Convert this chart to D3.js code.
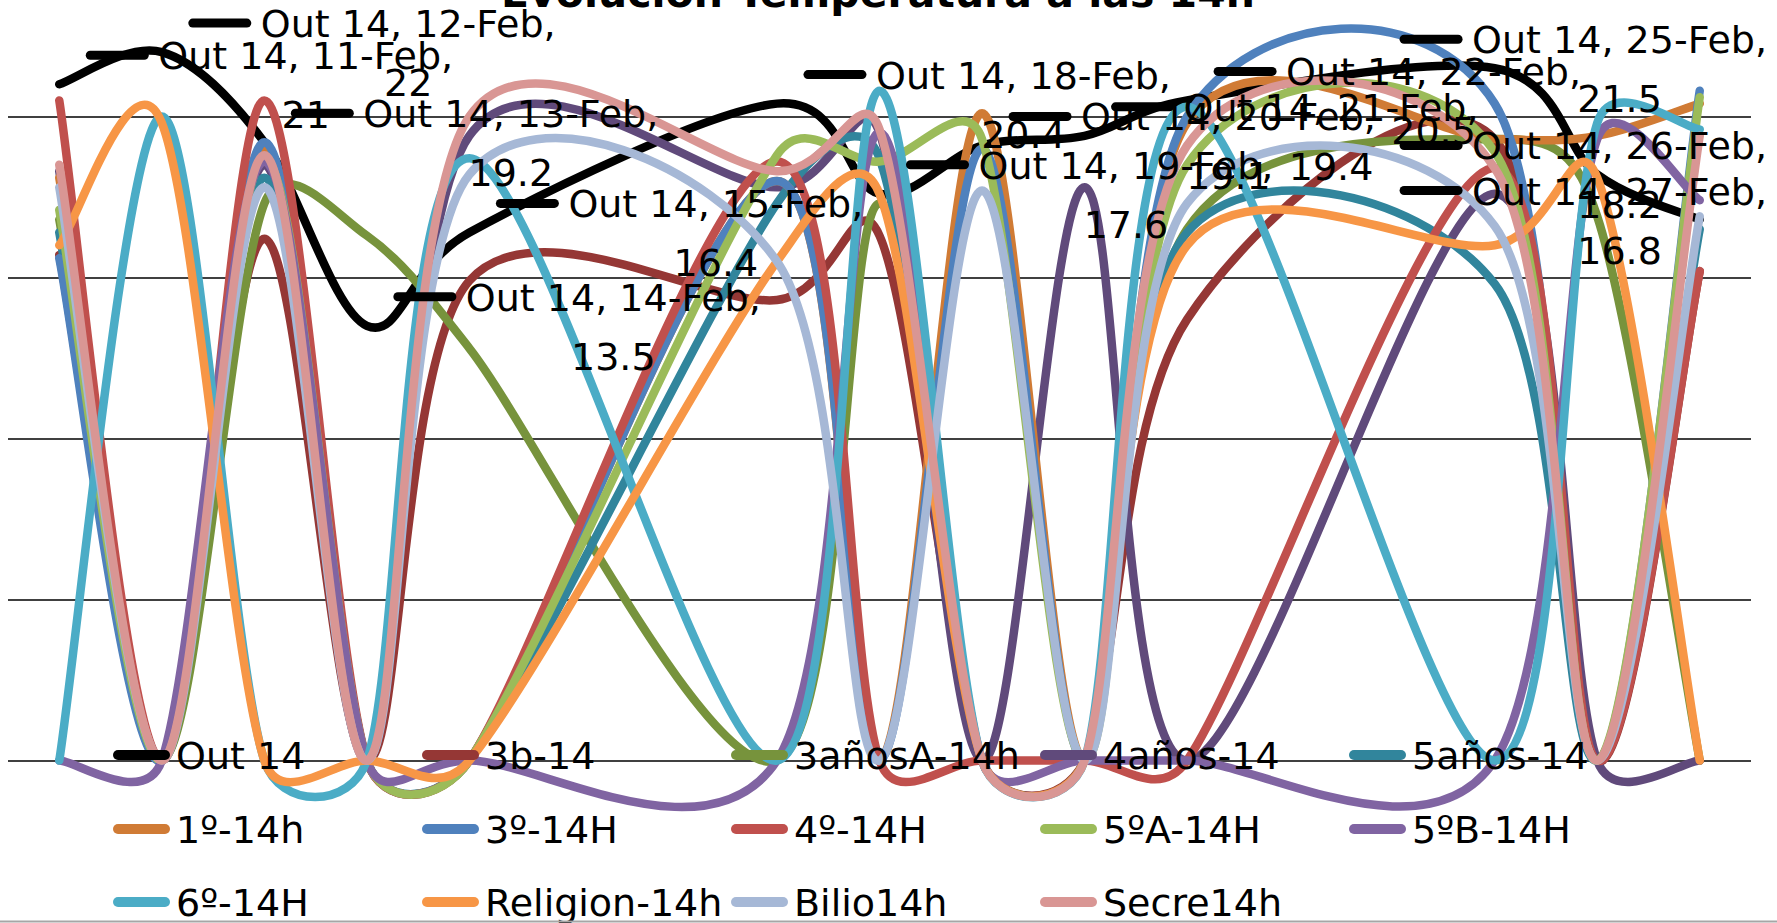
<!DOCTYPE html>
<html>
<head>
<meta charset="utf-8">
<style>
  body { margin: 0; background: #fff; }
  svg { display: block; font-family: "DejaVu Sans", sans-serif; }
</style>
<script src="https://d3js.org/d3.v7.min.js"></script>
</head>
<body>
<svg width="1777" height="923"></svg>
<script>
// fechas (solo días laborables)
var dateLabels = ["11-Feb","12-Feb","13-Feb","14-Feb","15-Feb","18-Feb","19-Feb","20-Feb","21-Feb","22-Feb","25-Feb","26-Feb","27-Feb"];
var dayOfMonth = [11,12,13,14,15,18,19,20,21,22,25,26,27];
var yTicks = [0, 5, 10, 15, 20];

// temperaturas a las 14h
var out14     = [21, 22, 19.2, 13.5, 16.4, 20.4, 17.6, 19.1, 19.4, 20.5, 21.5, 18.2, 16.8];
var b3_14     = [15.7, 0, 16.2, 0, 14.9, 14.3, 16.3, 0, 0, 13.7, 19.3, 0, 15.2];
var anos3A    = [16.8, 0, 17.3, 16.3, 12.8, 0, 17.3, 0, 0, 16.5, 19.3, 16.9, 0];
var anos4     = [18.3, 0, 18.5, 0, 19.4, 17.8, 19.5, 0, 17.8, 0, 17.6, 0, 0];
var anos5     = [16.4, 0, 18.1, 0, 0, 17.3, 18.7, 0, 0, 16.4, 14.8, 0, 16.5];
var p1_14     = [18.1, 0, 19.0, 0, 0, 18.0, 0, 20.1, 0, 19.8, 19.3, 19.4, 20.4];
var p3_14     = [15.6, 0, 19.2, 0, 0, 18.0, 0, 19.0, 0, 20.0, 20.4, 0, 20.8];
var p4_14     = [20.5, 0, 20.5, 0, 0, 18.6, 0, 0, 0, 0, 18.4, 0, 15.2];
var p5A_14    = [17.1, 0, 18.7, 0, 0, 18.8, 18.6, 19.3, 0, 18.5, 18.9, 0, 20.6];
var p5B_14    = [0, 0, 18.6, 0, 0, 0, 19.5, 0, 0, 0, 0, 19.3, 17.4];
var p6_14     = [0, 20.0, 0, 0, 18.7, 0, 20.8, 0, 0, 20.3, 0, 19.8, 19.6];
var religion  = [16.0, 19.8, 0, 0, 0, 15.5, 17.6, 0, 0, 16.0, 16.0, 18.1, 0];
var bilio     = [17.8, 0, 17.8, 0, 18.2, 15.5, 0, 17.7, 0, 17.3, 16.6, 0, 16.9];
var secre     = [18.5, 0, 18.8, 0, 20.0, 18.3, 19.6, 0, 0, 19.1, 18.4, 0, 19.4];

var seriesNames  = ["Out 14","3b-14","3añosA-14h","4años-14","5años-14","1º-14h","3º-14H","4º-14H","5ºA-14H","5ºB-14H","6º-14H","Religion-14h","Bilio14h","Secre14h"];
var seriesColors = ["#000000","#953735","#77933C","#604A7B","#31859C","#D07B35","#4F81BD","#C0504D","#9BBB59","#8064A2","#4BACC6","#F79646","#A6B8D6","#D99694"];
var seriesValues = [out14, b3_14, anos3A, anos4, anos5, p1_14, p3_14, p4_14, p5A_14, p5B_14, p6_14, religion, bilio, secre];

var svg = d3.select("svg");
svg.append("rect").attr("width", 1777).attr("height", 923).attr("fill", "#fff");

var x = d3.scaleLinear().domain([10.5, 27.5]).range([8, 1751]);
var y = d3.scaleLinear().domain([0, 25]).range([760.5, -44.5]);

// curva suavizada tipo Excel: Catmull-Rom con brazos limitados a medio tramo
function excelCurve(context) {
    return {
        areaStart: function(){}, areaEnd: function(){},
        lineStart: function(){ this.pts = []; },
        point: function(px, py){ this.pts.push([px, py]); },
        lineEnd: function(){
            var p = this.pts, n = p.length;
            if (!n) return;
            context.moveTo(p[0][0], p[0][1]);
            for (var i = 0; i < n - 1; i++) {
                var p0 = p[Math.max(i - 1, 0)], p1 = p[i], p2 = p[i + 1], p3 = p[Math.min(i + 2, n - 1)];
                var L = Math.hypot(p2[0] - p1[0], p2[1] - p1[1]);
                var a1 = [(p2[0] - p0[0]) / 6, (p2[1] - p0[1]) / 6];
                var a2 = [(p3[0] - p1[0]) / 6, (p3[1] - p1[1]) / 6];
                var s1 = Math.min(1, 0.5 * L / (Math.hypot(a1[0], a1[1]) || 1));
                var s2 = Math.min(1, 0.5 * L / (Math.hypot(a2[0], a2[1]) || 1));
                context.bezierCurveTo(p1[0] + a1[0] * s1, p1[1] + a1[1] * s1,
                                      p2[0] - a2[0] * s2, p2[1] - a2[1] * s2,
                                      p2[0], p2[1]);
            }
        }
    };
}

// titulo (cortado arriba)
svg.append("text")
   .attr("x", 878).attr("y", 7)
   .attr("text-anchor", "middle")
   .attr("font-size", 41).attr("font-weight", "bold")
   .text("Evolución Temperatura a las 14h");

// lineas de division
svg.append("g")
   .attr("transform", "translate(8,0)")
   .call(d3.axisLeft(y).tickValues(yTicks).tickSize(-1743).tickFormat(""))
   .call(function(g){ g.select(".domain").remove(); })
   .selectAll("line").attr("stroke", "#000").attr("stroke-width", 1.6);

// series
var line = d3.line()
   .x(function(d, i){ return x(dayOfMonth[i]); })
   .y(function(d){ return y(d); })
   .curve(excelCurve);

svg.append("g").selectAll("path")
   .data(seriesValues)
   .enter().append("path")
   .attr("d", line)
   .attr("fill", "none")
   .attr("stroke", function(d, i){ return seriesColors[i]; })
   .attr("stroke-width", 8.5)
   .attr("stroke-linejoin", "round")
   .attr("stroke-linecap", "round");

// etiquetas de datos de Out 14 (con clave de leyenda)
var labels = svg.append("g").attr("font-size", 38).attr("fill", "#000");
out14.forEach(function(v, i){
    var px = x(dayOfMonth[i]), py = y(v);
    var g = labels.append("g");
    var t1 = g.append("text").attr("x", px + 99).attr("y", py - 15)
              .text("Out 14, " + dateLabels[i] + ",");
    var w = t1.node().getComputedTextLength();
    var shift = Math.max(0, px + 99 + w - 1767);
    t1.attr("x", px + 99 - shift);
    g.append("text").attr("x", px + 99 - shift + w / 2).attr("y", py + 44)
     .attr("text-anchor", "middle").text(String(v));
    g.append("line")
     .attr("x1", px + 31 - shift).attr("x2", px + 85 - shift)
     .attr("y1", py - 29).attr("y2", py - 29)
     .attr("stroke", "#000").attr("stroke-width", 9).attr("stroke-linecap", "round");
});

// leyenda
var legend = svg.append("g").attr("font-size", 38);
var rowY = [755, 829, 902];
seriesNames.forEach(function(name, i){
    var col = i % 5, row = Math.floor(i / 5);
    var lx = 113 + col * 309, ly = rowY[row];
    legend.append("line")
       .attr("x1", lx + 5).attr("x2", lx + 52)
       .attr("y1", ly).attr("y2", ly)
       .attr("stroke", seriesColors[i]).attr("stroke-width", 10).attr("stroke-linecap", "round");
    legend.append("text").attr("x", lx + 63).attr("y", ly + 14).text(name);
});

// borde inferior del grafico
svg.append("line").attr("x1", 0).attr("x2", 1777).attr("y1", 921.5).attr("y2", 921.5)
   .attr("stroke", "#a6a6a6").attr("stroke-width", 2);
</script>
</body>
</html>
